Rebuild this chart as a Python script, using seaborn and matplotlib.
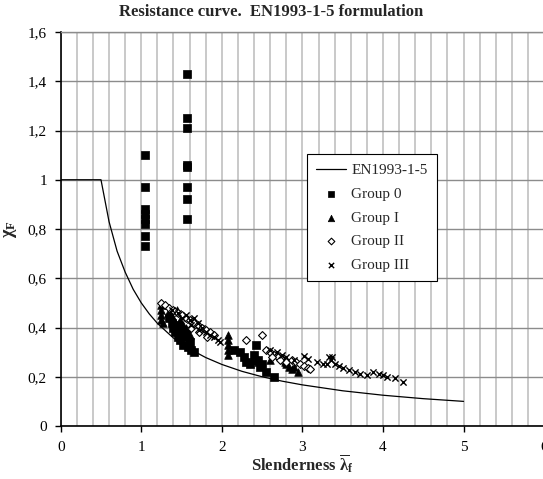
import numpy as np
import pandas as pd
import matplotlib
matplotlib.use("Agg")
import matplotlib.pyplot as plt
from matplotlib.ticker import FuncFormatter, MultipleLocator
import seaborn as sns

sns.set_theme(style="white")
plt.rcParams['font.family'] = ['Liberation Serif', 'DejaVu Serif']
plt.rcParams['mathtext.fontset'] = 'custom'
plt.rcParams['mathtext.rm'] = 'Liberation Serif'
plt.rcParams['mathtext.bf'] = 'Liberation Serif:bold'
plt.rcParams['mathtext.it'] = 'Liberation Serif:italic'

# ---------------- data ----------------
curve_x = [0, 0.5, 0.6, 0.7, 0.8, 0.9, 1.0, 1.1, 1.2, 1.4, 1.6, 1.8, 2.0, 2.25, 2.5,
           2.75, 3.0, 3.5, 4.0, 4.5, 5.0]
curve_y = [1.0, 1.0, 0.83, 0.71, 0.625, 0.555, 0.50, 0.455, 0.417, 0.357, 0.313, 0.278,
           0.25, 0.222, 0.20, 0.182, 0.167, 0.143, 0.125, 0.111, 0.10]

g0_x = [1.05, 1.05, 1.05, 1.05, 1.05, 1.05, 1.05, 1.05,
        1.57, 1.57, 1.57, 1.57, 1.57, 1.57, 1.57, 1.57,
        1.35, 1.38, 1.40, 1.42, 1.45, 1.45, 1.48, 1.50, 1.52, 1.55, 1.58, 1.60, 1.62, 1.66,
        2.15, 2.22, 2.28, 2.30, 2.35, 2.40, 2.42, 2.45, 2.48, 2.50, 2.55, 2.65]
g0_y = [1.10, 0.97, 0.88, 0.86, 0.84, 0.82, 0.77, 0.73,
        1.43, 1.25, 1.21, 1.06, 1.05, 0.97, 0.92, 0.84,
        0.44, 0.42, 0.40, 0.38, 0.41, 0.36, 0.35, 0.39, 0.33, 0.37, 0.32, 0.34, 0.31, 0.30,
        0.31, 0.30, 0.28, 0.26, 0.25, 0.29, 0.33, 0.27, 0.24, 0.25, 0.22, 0.20]

g1_x = [1.25, 1.25, 1.25, 1.25, 1.27, 1.33, 1.37, 1.40, 1.42, 1.45, 1.48, 1.50, 1.53,
        1.55, 1.58, 1.60, 1.62, 1.44, 1.52,
        2.08, 2.08, 2.08, 2.08, 2.08, 2.38, 2.45, 2.60, 2.78, 2.80, 2.83, 2.87, 2.90, 2.95]
g1_y = [0.49, 0.47, 0.45, 0.43, 0.42, 0.46, 0.45, 0.44, 0.42, 0.40, 0.43, 0.38, 0.36,
        0.40, 0.35, 0.37, 0.33, 0.47, 0.41,
        0.37, 0.35, 0.33, 0.31, 0.29, 0.27, 0.26, 0.27, 0.26, 0.25, 0.24, 0.23, 0.24, 0.22]

g2_x = [1.25, 1.30, 1.35, 1.40, 1.45, 1.50, 1.55, 1.60, 1.65, 1.70, 1.75, 1.80, 1.85,
        1.90, 1.62, 1.72, 1.82, 2.30, 2.50, 2.55, 2.60, 2.65, 2.70, 2.75, 2.80, 2.87,
        2.92, 2.97, 3.02, 3.07, 3.10, 2.62, 2.72]
g2_y = [0.50, 0.49, 0.48, 0.47, 0.46, 0.45, 0.44, 0.43, 0.42, 0.41, 0.40, 0.39, 0.38,
        0.37, 0.40, 0.38, 0.36, 0.35, 0.37, 0.31, 0.30, 0.29, 0.28, 0.27, 0.26, 0.27,
        0.26, 0.25, 0.245, 0.235, 0.23, 0.28, 0.27]

g3_x = [1.38, 1.45, 1.50, 1.55, 1.60, 1.65, 1.70, 1.75, 1.80, 1.85, 1.90, 1.95, 1.98,
        1.72, 1.62, 2.60, 2.68, 2.75, 2.80, 2.90, 3.02, 3.07, 3.18, 3.33, 3.35, 3.37,
        3.30, 3.40, 3.45, 3.50, 3.58, 3.65, 3.72, 3.80, 3.88, 3.95, 4.00, 4.05, 4.15,
        4.25, 3.25]
g3_y = [0.47, 0.46, 0.44, 0.45, 0.43, 0.44, 0.42, 0.40, 0.38, 0.37, 0.36, 0.35, 0.34,
        0.39, 0.41, 0.31, 0.30, 0.29, 0.28, 0.27, 0.284, 0.274, 0.258, 0.28, 0.27, 0.28,
        0.25, 0.25, 0.243, 0.236, 0.227, 0.22, 0.213, 0.207, 0.22, 0.213, 0.207, 0.20,
        0.193, 0.18, 0.25]

x_ticks = [0, 1, 2, 3, 4, 5, 6]
y_ticks = [0, 0.2, 0.4, 0.6, 0.8, 1.0, 1.2, 1.4, 1.6]

title = "Resistance curve.  EN1993-1-5 formulation"

# ---------------- figure ----------------
W, H = 543, 479
fig = plt.figure(figsize=(W / 100, H / 100), dpi=100)
ax = fig.add_axes([60.7 / W, 53 / H, (W - 60.7) / W + 0.002, 394 / H])

sns.lineplot(x=curve_x, y=curve_y, color='black', lw=0.9, ax=ax,
             label='EN1993-1-5', zorder=3, sort=False)
sns.scatterplot(x=g0_x, y=g0_y, marker='s', color='black', s=26, edgecolor='black',
                linewidth=0.5, ax=ax, label='Group 0', zorder=4)
sns.scatterplot(x=g1_x, y=g1_y, marker='^', color='black', s=30, edgecolor='black',
                linewidth=0.5, ax=ax, label='Group I', zorder=5)
sns.scatterplot(x=g2_x, y=g2_y, marker='D', color='white', s=16, edgecolor='black',
                linewidth=0.8, ax=ax, label='Group II', zorder=6)
sns.scatterplot(x=g3_x, y=g3_y, marker='x', color='black', s=20,
                linewidth=1.0, ax=ax, label='Group III', zorder=7)

ax.set_xlim(0, 6)
ax.set_ylim(0, 1.6)
ax.set_xticks(x_ticks)
ax.set_yticks(y_ticks)
ax.xaxis.set_minor_locator(MultipleLocator(0.2))

def comma(v, pos):
    s = ('%g' % round(v, 2))
    return s.replace('.', ',')

ax.xaxis.set_major_formatter(FuncFormatter(comma))
ax.yaxis.set_major_formatter(FuncFormatter(comma))

ax.grid(which='both', axis='x', color='#c0c0c0', lw=1.2)
ax.grid(which='major', axis='y', color='#8c8c8c', lw=1.0)
ax.set_axisbelow(True)

ax.tick_params(axis='both', which='major', direction='out', length=4, width=1,
               color='black', labelsize=11, labelcolor='black', pad=6)
ax.tick_params(axis='x', which='major', pad=7)
ax.tick_params(which='minor', length=0)
ax.xaxis.set_ticks_position('bottom')
ax.yaxis.set_ticks_position('left')

for side in ['left', 'bottom']:
    ax.spines[side].set_color('black')
    ax.spines[side].set_linewidth(1.2)
ax.spines['top'].set_color('#8c8c8c')
ax.spines['top'].set_linewidth(1.0)
ax.spines['right'].set_visible(False)

ax.set_xlabel(r'Slenderness $\overline{\mathbf{\lambda}}_\mathbf{f}$', fontsize=12,
              fontweight='bold', labelpad=-1)
ax.set_ylabel(r'χ$_\mathbf{F}$', fontsize=13, fontweight='bold', labelpad=6)

fig.text(0.50, 0.975, title, ha='center', va='center', fontsize=12, fontweight='bold')

leg = ax.legend(loc='upper left', bbox_to_anchor=(0.509, 0.690), frameon=True,
                fancybox=False, edgecolor='black', framealpha=1, fontsize=11,
                labelspacing=0.66, handlelength=2.0, handletextpad=0.3,
                borderpad=0.6, borderaxespad=0, markerscale=0.85)
leg.get_frame().set_linewidth(0.8)

fig.savefig('out.png', dpi=100)
